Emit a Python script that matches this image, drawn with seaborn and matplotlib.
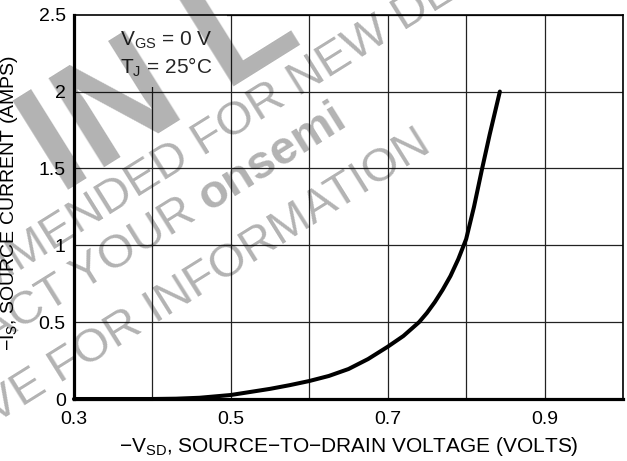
import numpy as np
import pandas as pd
import matplotlib
matplotlib.use('Agg')
import matplotlib.pyplot as plt
from matplotlib.patches import Rectangle
import seaborn as sns

# source-drain diode forward characteristic
v_sd = [0.30, 0.40, 0.43, 0.46, 0.50, 0.55, 0.575, 0.60, 0.625, 0.65, 0.675,
        0.70, 0.72, 0.74, 0.75, 0.76, 0.77, 0.78, 0.79, 0.80, 0.81, 0.82,
        0.83, 0.843]
i_s = [0.0, 0.0, 0.002, 0.008, 0.026, 0.066, 0.09, 0.117, 0.15, 0.195, 0.26,
       0.34, 0.41, 0.50, 0.56, 0.63, 0.71, 0.80, 0.91, 1.04, 1.25, 1.49,
       1.72, 2.0]

x_ticks = [0.3, 0.5, 0.7, 0.9]
x_grid = [0.3, 0.4, 0.5, 0.6, 0.7, 0.8, 0.9, 1.0]
y_ticks = [0, 0.5, 1, 1.5, 2, 2.5]
y_labels = ['0', '0.5', '1', '1.5', '2', '2.5']

df = pd.DataFrame({'vsd': v_sd, 'is': i_s})

sns.set_theme(style='white')
plt.rcParams['font.family'] = ['Liberation Sans', 'DejaVu Sans']
plt.rcParams['mathtext.fontset'] = 'custom'
plt.rcParams['mathtext.rm'] = 'Liberation Sans'
plt.rcParams['mathtext.default'] = 'regular'

fig = plt.figure(figsize=(6.27, 4.61), dpi=100)
ax = fig.add_axes([74 / 627, 1 - 399 / 461, 549 / 627, 384.3 / 461])

sns.lineplot(data=df, x='vsd', y='is', color='black', lw=2.9, ax=ax,
             zorder=5, clip_on=False)

ax.set_xlim(0.3, 1.0)
ax.set_ylim(0, 2.5)
ax.set_xticks(x_grid, minor=True)
ax.set_xticks(x_ticks)
ax.set_xticklabels([str(t) for t in x_ticks])
ax.set_yticks(y_ticks)
ax.set_yticklabels(y_labels)
ax.tick_params(axis='both', which='both', length=0, labelsize=14, colors='black')
ax.tick_params(axis='x', pad=9)
ax.tick_params(axis='y', pad=6)
ax.set_axisbelow(True)
ax.grid(True, which='both', axis='x', color='#222222', lw=0.9)
ax.grid(True, which='major', axis='y', color='#222222', lw=0.9)

for side in ['left', 'bottom']:
    ax.spines[side].set_linewidth(2.3)
for side in ['top', 'right']:
    ax.spines[side].set_linewidth(1.2)
for s in ax.spines.values():
    s.set_color('black')
    s.set_zorder(6)

ax.set_xlabel('\u2212V$_{SD}$, SOURCE\u2212TO\u2212DRAIN VOLTAGE (VOLTS)', fontsize=15,
              color='black', labelpad=5)
ax.set_ylabel('\u2212I$_{S}$, SOURCE CURRENT (AMPS)', fontsize=14, color='black')
ax.yaxis.set_label_coords(-0.098, 0.51)

# condition box
ax.add_patch(Rectangle((0.3, 2.03), 0.195, 0.47, facecolor='white',
                       edgecolor='none', zorder=0.8))
ax.text(0.359, 2.335, 'V$_{GS}$ = 0 V', fontsize=15, va='center', ha='left', zorder=3)
ax.text(0.359, 2.16, 'T$_{J}$ = 25\u00b0C', fontsize=15, va='center', ha='left', zorder=3)

# watermark
ang = 32
wm = dict(color='black', alpha=0.3, rotation=ang, rotation_mode='anchor',
          zorder=10, va='baseline')
def px(x, y):
    return x / 627, 1 - y / 461
fig.text(*px(60, 195), 'IN L', ha='left', fontsize=110, fontweight='bold', **wm)
fig.text(*px(213, 150), 'RECOMMENDED FOR NEW DESIGN', ha='center', fontsize=34, **wm)
fig.text(*px(198, 218), 'CONTACT YOUR', ha='right', fontsize=34, **wm)
fig.text(*px(208, 212), 'onsemi', ha='left', fontsize=34, fontweight='bold', **wm)
fig.text(*px(433, 150), 'REPRESENTATIVE FOR INFORMATION', ha='right', fontsize=34, **wm)

plt.savefig('out.png', dpi=100)
plt.close()
